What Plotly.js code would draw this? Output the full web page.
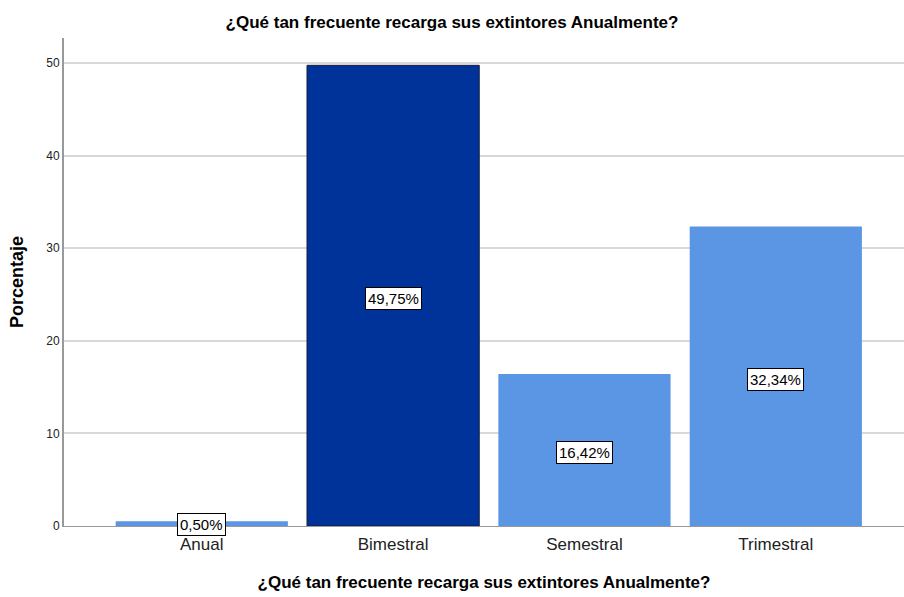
<!DOCTYPE html>
<html>
<head>
<meta charset="utf-8">
<script src="https://cdn.plot.ly/plotly-3.0.1.min.js"></script>
<style>html,body{margin:0;padding:0;background:#fff;}#chart{width:904px;height:597px;}</style>
</head>
<body>
<div id="chart"></div>
<script>
const categories = ["Anual", "Bimestral", "Semestral", "Trimestral"];
const values = [0.50, 49.75, 16.42, 32.34];
const labels = ["0,50%", "49,75%", "16,42%", "32,34%"];
const barColors = ["#5a96e3", "#003399", "#5a96e3", "#5a96e3"];
const yTicks = [0, 10, 20, 30, 40, 50];

const FONT = "Liberation Sans Narrow, Liberation Sans, Arial, sans-serif";

const trace = {
  type: "bar",
  x: categories,
  y: values,
  width: 0.9,
  marker: {
    color: barColors,
    line: {color: categories.map((c, i) => i === 1 ? "#1a1a3a" : "rgba(0,0,0,0)"), width: 1}
  },
  hoverinfo: "none"
};

const annotations = categories.map((c, i) => ({
  x: c, y: values[i] / 2, xref: "x", yref: "y",
  text: labels[i], showarrow: false, yshift: i === 0 ? -1 : -3,
  bgcolor: "#ffffff", bordercolor: "#000000", borderwidth: 1, borderpad: 2,
  font: {family: FONT, size: 15, color: "#000"}
}));

const layout = {
  width: 904, height: 597,
  margin: {l: 64, r: 0, t: 38, b: 71},
  paper_bgcolor: "#fff", plot_bgcolor: "#fff",
  showlegend: false,
  title: {
    text: "<b>¿Qué tan frecuente recarga sus extintores Anualmente?</b>",
    x: 0.5, xanchor: "center", y: 0.963, yanchor: "middle",
    font: {family: FONT, size: 17, color: "#000"}
  },
  xaxis: {
    type: "category",
    range: [-0.72, 3.67],
    showgrid: false, zeroline: false,
    showline: true, linecolor: "#999", linewidth: 1,
    ticks: "", tickfont: {family: FONT, size: 17, color: "#222"},
    ticklabelstandoff: 3,
    title: {text: "<b>¿Qué tan frecuente recarga sus extintores Anualmente?</b>", standoff: 22,
      font: {family: FONT, size: 17, color: "#000"}}
  },
  yaxis: {
    range: [0, 52.7],
    tickvals: yTicks,
    showgrid: true, gridcolor: "#d9d9d9", gridwidth: 2,
    zeroline: false,
    showline: true, linecolor: "#999", linewidth: 2,
    ticks: "", tickfont: {family: FONT, size: 12, color: "#222"},
    title: {text: "<b>Porcentaje</b>", standoff: 18,
      font: {family: FONT, size: 18, color: "#000"}}
  },
  annotations: annotations,
  bargap: 0.1
};

Plotly.newPlot("chart", [trace], layout, {displayModeBar: false, staticPlot: true});
</script>
</body>
</html>
